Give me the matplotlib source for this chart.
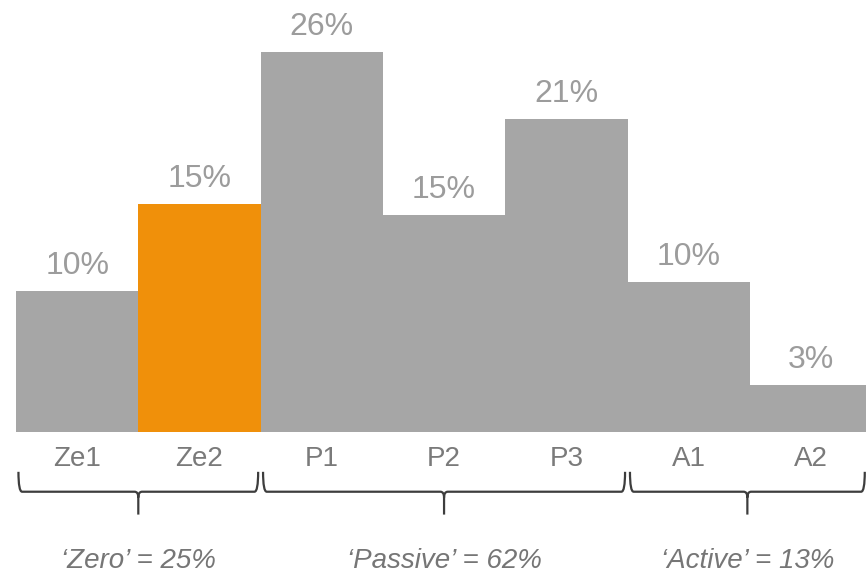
import matplotlib
matplotlib.use("Agg")
import matplotlib.pyplot as plt
from matplotlib.path import Path
from matplotlib.patches import PathPatch

plt.rcParams['font.family'] = ['Liberation Sans', 'DejaVu Sans']

# shares per segment (%)
categories = ['Ze1', 'Ze2', 'P1', 'P2', 'P3', 'A1', 'A2']
shares = [9.55, 15.45, 25.75, 14.7, 21.2, 10.15, 3.2]
highlight = 'Ze2'

# segment groups: name and the categories each one covers
group_names = ['Zero', 'Passive', 'Active']
group_members = [['Ze1', 'Ze2'], ['P1', 'P2', 'P3'], ['A1', 'A2']]

GREY = '#a6a6a6'
ORANGE = '#f0900a'
BRACE = '#3d3d3d'

fig = plt.figure(figsize=(8.66, 5.74), dpi=100)
ax = fig.add_axes([16 / 866, 0, 850 / 866, 1])
ax.set_xlim(-0.5, 6.45)
ax.set_ylim(-9.63, 29.3)
ax.axis('off')

xs = list(range(len(categories)))
colors = [ORANGE if c == highlight else GREY for c in categories]
bars = ax.bar(xs, shares, width=1.0, color=colors, linewidth=0)

# value labels above the bars
for x, v in zip(xs, shares):
    ax.annotate(f'{v:.0f}%', (x, v), xytext=(0, 18), textcoords='offset points',
                ha='center', va='center', fontsize=23, color='#9c9c9c')

# category names under the baseline
for x, c in zip(xs, categories):
    ax.text(x, -1.8, c, ha='center', va='center', fontsize=20, color='#7a7a7a')


def draw_brace(ax, x0, x1, y_line, y_end, y_tip, rx, ry):
    xm = (x0 + x1) / 2
    verts = [
        (x0, y_end), (x0, y_line), (x0 + rx, y_line),
        (xm - rx, y_line), (xm, y_line), (xm, y_line - ry), (xm, y_tip),
        (x1, y_end), (x1, y_line), (x1 - rx, y_line),
        (xm + rx, y_line), (xm, y_line), (xm, y_line - ry),
    ]
    codes = [
        Path.MOVETO, Path.CURVE3, Path.CURVE3,
        Path.LINETO, Path.CURVE3, Path.CURVE3, Path.LINETO,
        Path.MOVETO, Path.CURVE3, Path.CURVE3,
        Path.LINETO, Path.CURVE3, Path.CURVE3,
    ]
    ax.add_patch(PathPatch(Path(verts, codes), facecolor='none',
                           edgecolor=BRACE, lw=1.6, clip_on=False,
                           capstyle='butt', joinstyle='round'))
    return xm


right_edge = ax.get_xlim()[1] - 0.01
for name, members in zip(group_names, group_members):
    idx = [categories.index(m) for m in members]
    total = sum(shares[i] for i in idx)
    x0 = min(idx) - 0.48
    x1 = min(max(idx) + 0.48, right_edge)
    xm = draw_brace(ax, x0, x1, y_line=-4.05, y_end=-2.7, y_tip=-5.6,
                    rx=0.03, ry=0.4)
    ax.text(xm, -8.75, f'\u2018{name}\u2019 = {total:.0f}%', ha='center',
            va='center', fontsize=20, style='italic', color='#767676')

fig.savefig('out.png', dpi=100)
